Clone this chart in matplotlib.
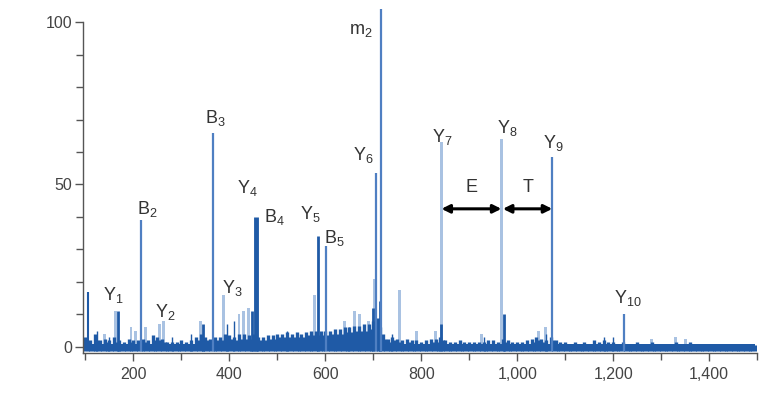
import numpy as np
import matplotlib
matplotlib.use("Agg")
import matplotlib.pyplot as plt

plt.rcParams['font.family'] = ['Liberation Sans', 'DejaVu Sans']
plt.rcParams['mathtext.fontset'] = 'custom'
plt.rcParams['mathtext.rm'] = 'Liberation Sans'

# ---- data ----
# baseline noise envelope, every 10 m/z from 100 to 1490 (% relative intensity)
noise_start = 100
noise_step = 10
noise_vals = [
    3, 2, 4, 2, 2.5, 2, 3, 2, 1.5, 2.5,
    2, 2, 2.5, 2, 3.5, 3, 2.5, 1.5, 1.5, 1.5,
    2, 1.5, 2, 3, 4, 3, 2.5, 3, 3, 4,
    3.5, 3, 4, 4, 3.5, 4, 3, 3, 3.5, 3.5,
    4, 4, 4.5, 4, 4.5, 4, 4.5, 5, 5, 5,
    5, 5, 5.5, 5.5, 6, 6, 6.5, 6.5, 7, 7,
    8, 9, 4, 2.5, 3, 2.5, 2, 2.5, 2, 2,
    1.5, 2, 2.5, 2.5, 3, 2, 1.5, 1.5, 2, 1.5,
    1.5, 1.5, 1.5, 1.5, 2, 2, 1.5, 2.5, 2, 1.5,
    1.5, 1.5, 2, 2.5, 3, 2.5, 2, 3, 2, 1.5,
    1.5, 1, 1.5, 1, 1.5, 1, 2, 1.5, 2, 1.5,
    1.5, 1, 1.5, 1, 1, 1.5, 1, 1, 1.5, 1,
    1, 1, 1, 1.5, 1, 1, 1.5, 1, 1, 1,
    1, 1, 1, 1, 1, 1, 1, 1, 1, 0.8,
]
# in-between noise (offset by 5 m/z), lower fill level
noise_mid = [
    1.5, 1, 2, 1, 1.5, 1, 1.5, 1, 1, 1.5,
    1, 1, 1.5, 1, 2, 2, 1.5, 1, 1, 1,
    1, 1, 1, 2, 2.5, 2, 1.5, 2, 2, 2.5,
    2.5, 2, 2.5, 2.5, 2.5, 2.5, 2, 2, 2.5, 2.5,
    3, 3, 3, 3, 3, 3, 3.5, 3.5, 3.5, 3.5,
    3.5, 4, 4, 4, 4.5, 4.5, 5, 5, 5, 5.5,
    6, 6, 2.5, 1.5, 2, 1.5, 1, 1.5, 1, 1,
    1, 1, 1.5, 1.5, 2, 1, 1, 1, 1, 1,
    1, 1, 1, 1, 1, 1, 1, 1.5, 1, 1,
    1, 1, 1, 1.5, 2, 1.5, 1, 2, 1, 1,
    1, 0.8, 1, 0.8, 1, 0.8, 1, 1, 1, 1,
    1, 0.8, 1, 0.8, 0.8, 1, 0.8, 0.8, 1, 0.8,
    0.8, 0.8, 0.8, 1, 0.8, 0.8, 1, 0.8, 0.8, 0.8,
    0.8, 0.8, 0.8, 0.8, 0.8, 0.8, 0.8, 0.8, 0.8, 0.6,
]

# dark (dense) peaks
dark_mz = [106, 125, 150, 169, 280, 320, 345, 395, 410, 447, 456, 520, 584, 650, 700, 713,
           740, 842, 930, 973, 1060, 1180, 1200]
dark_int = [17, 5, 3, 11, 3, 4, 7, 7, 8, 11, 40, 5, 34, 6, 12, 14,
            4, 7, 3, 10, 4, 3, 3]
dark_width = [1.5, 1.0, 1.0, 2.0, 1.0, 1.0, 2.0, 1.0, 1.0, 2.0, 3.5, 1.0, 2.0, 1.0, 2.0, 2.0,
              1.0, 2.0, 1.0, 2.0, 1.0, 1.0, 1.0]

# light (minor) peaks
light_mz = [140, 163, 195, 205, 225, 255, 262, 340, 387, 420, 430, 440, 578, 640, 660, 671,
            690, 702, 754, 790, 830, 925, 1044, 1058, 1280, 1330, 1350]
light_int = [4, 11, 6, 5, 6, 7, 8, 8, 16, 10, 11, 12, 16, 8, 11, 10,
             8, 21, 17.5, 5, 5, 4, 5, 6, 2.5, 3, 2.5]

# labelled fragment peaks (mid-tone lines)
frag_mz = [215, 365, 602, 706, 717, 1073, 1223]
frag_int = [39, 66, 31, 53.5, 104, 58.5, 10]
# broad pale fragment peaks
pale_mz = [842, 967]
pale_int = [63, 64]

# fragment labels: (main, subscript, m/z, intensity)
label_main = ['Y', 'Y', 'B', 'B', 'Y', 'Y', 'B', 'Y', 'B', 'Y', 'm', 'Y', 'Y', 'Y', 'Y']
label_sub = ['1', '2', '2', '3', '3', '4', '4', '5', '5', '6', '2', '7', '8', '9', '10']
label_x = [158, 267, 229, 371, 406, 437, 494, 569, 619, 679, 673, 844, 979, 1075, 1231]
label_y = [16, 10.8, 42.5, 70.5, 18, 49, 40, 41, 33.5, 59, 97.5, 64.6, 67.4, 62.8, 15]

# residue gaps
gap_names = ['E', 'T']
gap_from = [842, 970]
gap_to = [967, 1073]
gap_level = 42.5

# ---- plot ----
DARK = '#1f5aa6'
MID = '#4f7fc2'
LIGHT = '#a9c2e2'
AXC = '#555555'

fig = plt.figure(figsize=(7.67, 3.96), dpi=100)
ax = fig.add_axes([0.1082, 0.1086, 0.879, 0.8765])

noise_mz = noise_start + noise_step * np.arange(len(noise_vals))
ax.vlines(noise_mz, -1.2, noise_vals, color=DARK, linewidth=2.4, zorder=2)
ax.vlines(noise_mz + noise_step / 2, -1.2, noise_mid, color=DARK, linewidth=2.4, zorder=2)
ax.fill_between([noise_mz[0] - 5, noise_mz[-1] + 5], -1.2, 0.8, color=DARK, linewidth=0,
                zorder=2)

for m, h in zip(light_mz, light_int):
    ax.bar(m, h + 1.2, width=6, bottom=-1.2, color=LIGHT, linewidth=0, zorder=1)

for m, h in zip(pale_mz, pale_int):
    ax.bar(m, h + 1.2, width=7, bottom=-1.2, color=LIGHT, linewidth=0, zorder=1)

for m, h, w in zip(dark_mz, dark_int, dark_width):
    ax.vlines(m, -1.2, h, color=DARK, linewidth=w, zorder=3)

for m, h in zip(frag_mz, frag_int):
    ax.vlines(m, -1.2, h, color=MID, linewidth=1.6, zorder=3)

for main, sub, x, y in zip(label_main, label_sub, label_x, label_y):
    ax.text(x, y, r'$\mathregular{' + main + '_{' + sub + '}}$', ha='center', va='center',
            fontsize=13, color='#333333', zorder=5)

for name, a, b in zip(gap_names, gap_from, gap_to):
    ax.annotate('', xy=(a, gap_level), xytext=(b, gap_level),
                arrowprops=dict(arrowstyle='<|-|>', color='black', lw=2.2,
                                mutation_scale=12, shrinkA=0, shrinkB=0), zorder=6)
    ax.text((a + b) / 2, gap_level + 6.5, name, ha='center', va='center', fontsize=13,
            color='#333333')

ax.set_xlim(95, 1500)
ax.set_ylim(-1.9, 105)
ax.spines['top'].set_visible(False)
ax.spines['right'].set_visible(False)
for s in ('left', 'bottom'):
    ax.spines[s].set_color(AXC)
    ax.spines[s].set_linewidth(1.0)
ax.spines['left'].set_bounds(-1.9, 100)

ax.set_yticks([0, 50, 100])
ax.set_yticks(np.arange(0, 101, 10), minor=True)
ax.set_xticks([200, 400, 600, 800, 1000, 1200, 1400])
ax.set_xticklabels(['200', '400', '600', '800', '1,000', '1,200', '1,400'])
ax.set_xticks(np.arange(100, 1501, 100), minor=True)
ax.tick_params(axis='both', which='major', length=6, width=1.0, color=AXC,
               labelcolor='#444444', labelsize=11.5)
ax.tick_params(axis='both', which='minor', length=5, width=1.0, color=AXC)
ax.tick_params(axis='y', pad=2)
ax.tick_params(axis='x', pad=4)

fig.savefig('out.png', dpi=100)
